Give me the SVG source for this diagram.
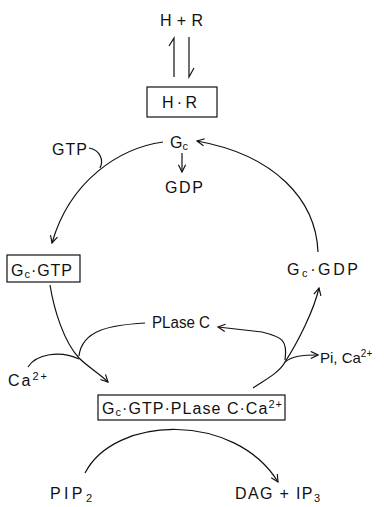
<svg xmlns="http://www.w3.org/2000/svg" width="384" height="507" viewBox="0 0 384 507">
<defs>
<style>
text{font-family:"Liberation Sans",Arial,sans-serif;font-size:16px;fill:#111;}
.s{font-size:11px;}
.box{fill:none;stroke:#111;stroke-width:1.2;}
.c{fill:none;stroke:#111;stroke-width:1.2;}
</style>
<marker id="ah" viewBox="0 0 10 10" refX="9" refY="5" markerWidth="9" markerHeight="9" markerUnits="userSpaceOnUse" orient="auto">
<path d="M1,1 L9,5 L1,9" fill="none" stroke="#111" stroke-width="1.3"/>
</marker>
</defs>
<rect width="384" height="507" fill="#fff"/>

<g id="HR_free"><text x="160" y="26" textLength="43" lengthAdjust="spacing">H + R</text></g>
<g id="HR"><rect class="box" x="147" y="87" width="70" height="30"/><text x="162" y="108" textLength="35" lengthAdjust="spacing">H · R</text></g>
<g id="Gc"><text x="170" y="148">G<tspan class="s" dy="2">c</tspan></text></g>
<g id="GDP"><text x="165" y="193" textLength="38" lengthAdjust="spacing">GDP</text></g>
<g id="GTP"><text x="52" y="155" textLength="35" lengthAdjust="spacing">GTP</text></g>
<g id="GcGTP"><rect class="box" x="7" y="255" width="73" height="27"/><text x="11" y="276" textLength="61" lengthAdjust="spacing">G<tspan class="s" dy="2">c</tspan><tspan dy="-2">·GTP</tspan></text></g>
<g id="GcGDP"><text x="287" y="275" textLength="71" lengthAdjust="spacing">G<tspan class="s" dy="2">c</tspan><tspan dy="-2">·GDP</tspan></text></g>
<g id="PLaseC"><text x="152" y="328" textLength="58" lengthAdjust="spacingAndGlyphs">PLase C</text></g>
<g id="PiCa"><text x="320" y="363" style="font-size:15px">Pi, Ca<tspan style="font-size:10px" dy="-6">2+</tspan></text></g>
<g id="Ca"><text x="8" y="386" textLength="39" lengthAdjust="spacing">Ca<tspan class="s" dy="-6">2+</tspan></text></g>
<g id="Complex"><rect class="box" x="98" y="395" width="187" height="25"/><text x="102" y="414" textLength="180" lengthAdjust="spacing">G<tspan class="s" dy="2">c</tspan><tspan dy="-2">·GTP·PLase C·Ca</tspan><tspan class="s" dy="-6">2+</tspan></text></g>
<g id="PIP2"><text x="50" y="499" textLength="42" lengthAdjust="spacing">PIP<tspan class="s" dy="3">2</tspan></text></g>
<g id="DAGIP3"><text x="235" y="499" textLength="85" lengthAdjust="spacing">DAG + IP<tspan class="s" dy="3">3</tspan></text></g>

<g id="connectors">
<path class="c" d="M174,77 L174,38 L169,46"/>
<path class="c" d="M189,37 L189,77 L194,68"/>
<path class="c" d="M163,142 C120,148 70,180 52,243" marker-end="url(#ah)"/>
<path class="c" d="M89,148 C100,150 104,160 100,168"/>
<path class="c" d="M182,153 L182,172" marker-end="url(#ah)"/>
<path class="c" d="M318,252 C316,200 275,155 197,141" marker-end="url(#ah)"/>
<path class="c" d="M50,285 C54,310 64,342 79,358 C88,367 100,374 108,382" marker-end="url(#ah)"/>
<path class="c" d="M145,323 C110,325 82,330 79,356"/>
<path class="c" d="M28,367 C36,354 60,350 79,359"/>
<path class="c" d="M253,388 C265,380 280,372 285,362 C298,342 314,310 319,288" marker-end="url(#ah)"/>
<path class="c" d="M285,360 C288,340 282,337 262,332 L218,327" marker-end="url(#ah)"/>
<path class="c" d="M285,362 C292,356 302,355 318,355" marker-end="url(#ah)"/>
<path class="c" d="M85,473 C115,415 235,412 278,482" marker-end="url(#ah)"/>
</g>
</svg>
